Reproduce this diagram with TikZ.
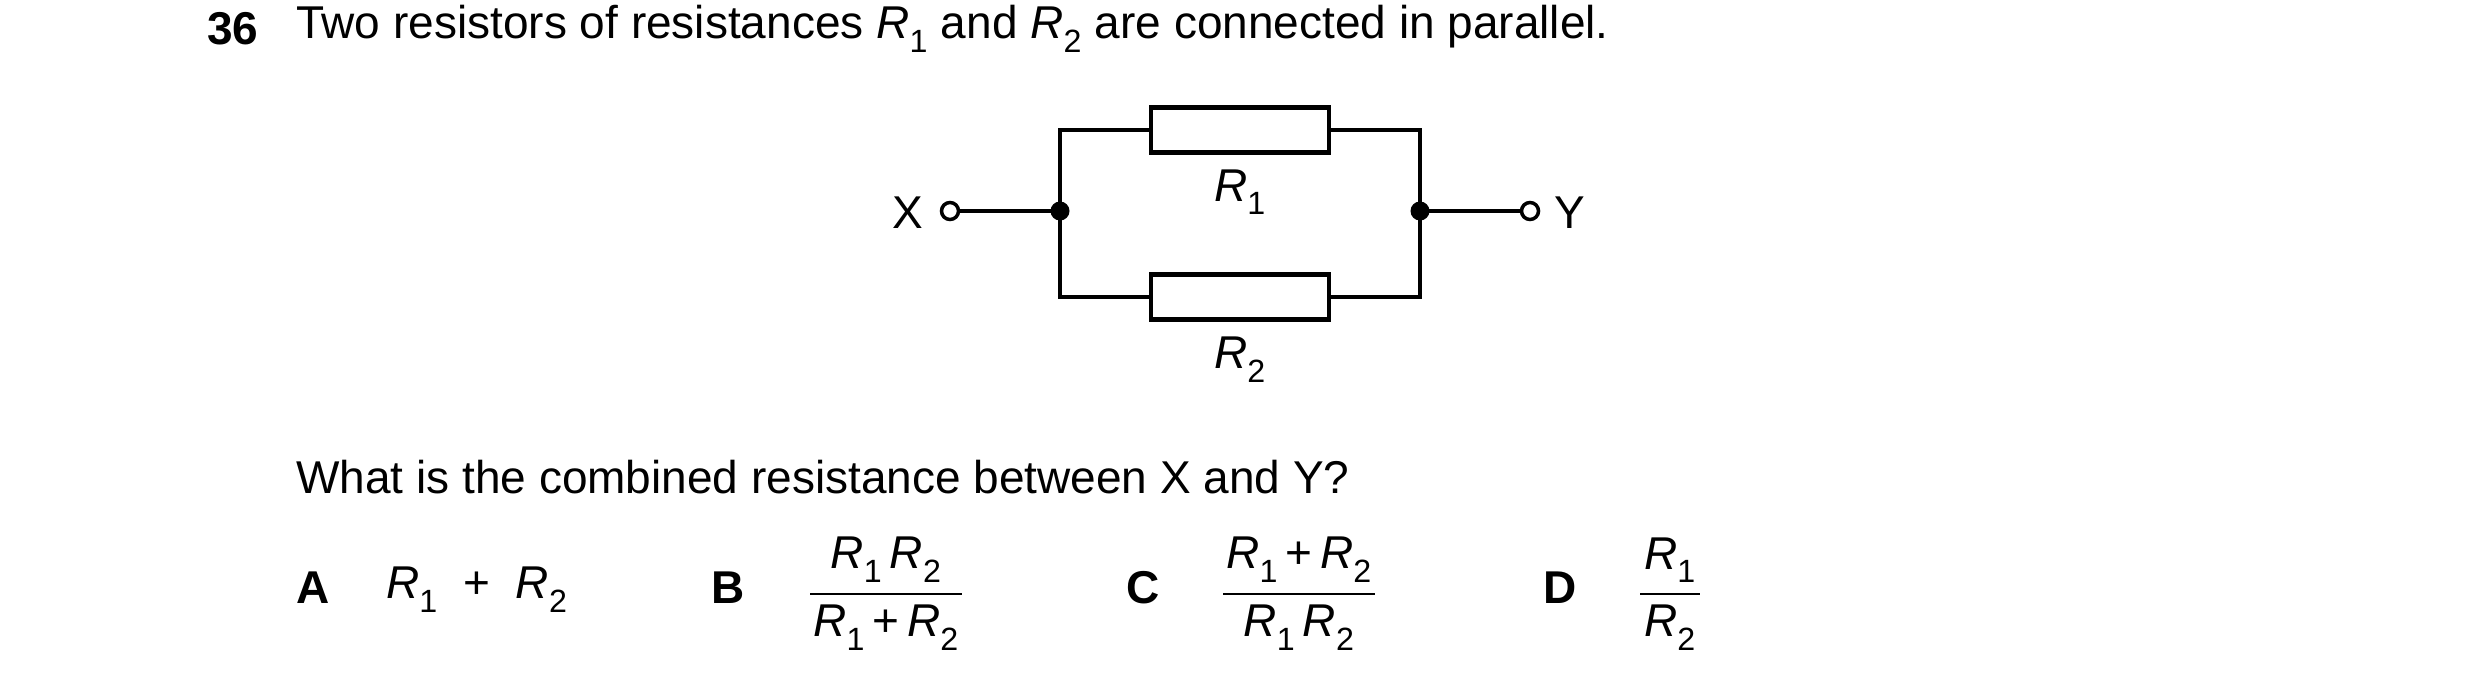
\documentclass[tikz,border=0pt]{standalone}
\usepackage{fontspec}
\setmainfont{Liberation Sans}
\newcommand{\Ra}{\textit{R}\textsubscript{1}}
\newcommand{\Rb}{\textit{R}\textsubscript{2}}
\begin{document}
\begin{tikzpicture}[x=1pt,y=-1pt,
  txt/.style={inner sep=0pt,font=\fontsize{46}{54}\selectfont},
  wire/.style={line width=4.5pt},
  res/.style={draw,line width=4.5pt,minimum width=178pt,minimum height=45pt,inner sep=0pt},
  dot/.style={circle,fill,inner sep=0pt,minimum size=19pt},
  term/.style={circle,draw,line width=3.5pt,fill=white,inner sep=0pt,minimum size=17pt}]
\useasboundingbox (0,0) rectangle (2480,683);
\node[txt,anchor=west] (num) at (207,29) {\textbf{36}};
\node[txt,anchor=west] (title) at (296,29) {Two resistors of resistances \Ra\ and \Rb\ are connected in parallel.};
% circuit
\coordinate (jl) at (1060,211);
\coordinate (jr) at (1420,211);
\node[res] (r1) at (1240,130) {};
\node[res] (r2) at (1240,297) {};
\draw[wire] (jl) |- (r1.west);
\draw[wire] (jl) |- (r2.west);
\draw[wire] (jr) |- (r1.east);
\draw[wire] (jr) |- (r2.east);
\node[term] (tx) at (950,211) {};
\node[term] (ty) at (1530,211) {};
\draw[wire] (tx) -- (jl);
\draw[wire] (ty) -- (jr);
\node[dot] at (jl) {};
\node[dot] at (jr) {};
\node[txt] (lx) at (908,213) {X};
\node[txt] (ly) at (1570,213) {Y};
\node[txt] (l1) at (1240,192) {\Ra};
\node[txt] (l2) at (1240,360) {\Rb};
\node[txt,anchor=west] (q) at (296,477) {What is the combined resistance between X and Y?};
% options
\node[txt] (a) at (313,588) {\textbf{A}};
\node[txt,anchor=west] (ae) at (386,590) {\Ra\ \ +\ \ \Rb};
\node[txt] (b) at (728,588) {\textbf{B}};
\node[txt] (bn) at (886,560) {\Ra\,\Rb};
\node[txt] (bd) at (886,628) {\Ra\,+\,\Rb};
\draw[line width=2pt] (810,594) -- (962,594);
\node[txt] (c) at (1143,588) {\textbf{C}};
\node[txt] (cn) at (1299,560) {\Ra\,+\,\Rb};
\node[txt] (cd) at (1299,628) {\Ra\,\Rb};
\draw[line width=2pt] (1223,594) -- (1375,594);
\node[txt] (d) at (1560,588) {\textbf{D}};
\node[txt] (dn) at (1670,560) {\Ra};
\node[txt] (dd) at (1670,628) {\Rb};
\draw[line width=2pt] (1640,594) -- (1700,594);
\end{tikzpicture}
\end{document}
